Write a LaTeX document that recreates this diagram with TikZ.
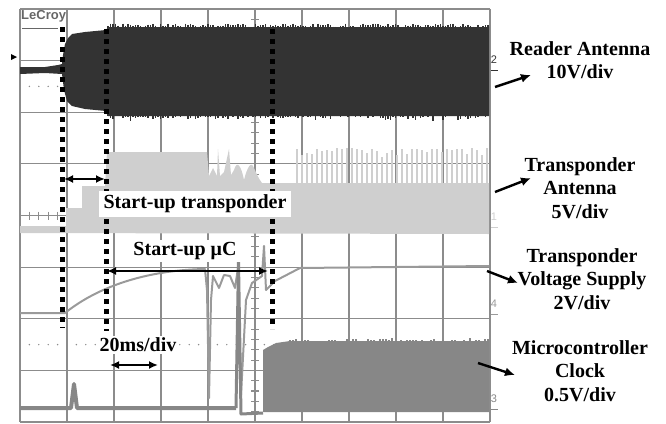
\documentclass[tikz,border=0pt]{standalone}
\usepackage{fontspec}
\setmainfont{Liberation Serif}
\setsansfont{Liberation Sans}
\usetikzlibrary{arrows.meta}

\definecolor{readergray}{HTML}{333333}
\definecolor{antgray}{HTML}{CFCFCF}
\definecolor{vddgray}{HTML}{9A9A9A}
\definecolor{clkgray}{HTML}{878787}
\definecolor{gridgray}{HTML}{8C8C8C}

\begin{document}
\begin{tikzpicture}[x=1pt,y=-1pt,
  gridline/.style={gridgray,line width=1.1pt},
  marker/.style={black,line width=5pt,dash pattern=on 5pt off 5pt},
  caption/.style={font=\fontsize{20}{23.5}\selectfont\bfseries,align=center},
  tag/.style={caption,fill=white,inner xsep=5pt,inner ysep=4pt},
  callout/.style={line width=2.4pt,-{Latex[length=10pt,width=9pt]}},
  span/.style={line width=2.2pt,{Latex[length=9pt,width=8pt]}-{Latex[length=9pt,width=8pt]}},
  chan/.style={font=\sffamily\fontsize{11}{11}\selectfont,inner sep=0pt}]

\useasboundingbox (0,0) rectangle (666,423);
\pgfmathsetseed{42}

% Graticule
\foreach \i in {0,...,10}
  \draw[gridline] (20+47*\i,9) -- (20+47*\i,422);
\foreach \j in {0,...,8}
  \draw[gridline] (20,9+51.625*\j) -- (490,9+51.625*\j);
\foreach \k in {1,...,39}
  \draw[gridline] (251,9+10.325*\k) -- (259,9+10.325*\k);
\foreach \k in {1,...,49}
  \draw[gridline] (20+9.4*\k,211.5) -- (20+9.4*\k,219.5);
\foreach \k in {1,...,49} {
  \fill[gridgray] (20+9.4*\k,86.4) circle (0.8pt);
  \fill[gridgray] (20+9.4*\k,344.6) circle (0.8pt);
}

% Transponder antenna (channel 1)
\fill[antgray] (20,233) -- (20,226) -- (66,226) -- (66,208) -- (82,208) -- (82,186)
  -- (105,186) -- (107,152) -- (207,152) -- (209,176) -- (213,168) -- (217,176)
  -- (218,149) -- (220,176) -- (224,172) -- (229,149) -- (231,175) -- (234,170)
  .. controls (237,160) and (241,165) .. (244,180)
  .. controls (247,168) and (251,160) .. (254,168)
  .. controls (256,172) and (258,178) .. (262,183) -- (489,183) -- (489,234) -- cycle;
\foreach \x in {297,302,...,487}
  \draw[antgray,line width=1.6pt] (\x,184) -- (\x,{148+12*rnd*rnd});

% Reader antenna (channel 2)
\fill[readergray] (20,67) -- (45,67) -- (58,65) -- (62,64) -- (63,55) -- (65,44)
  -- (68,38) -- (72,34) -- (85,32) -- (106,30) -- (108,27) -- (489,27)
  -- (489,116) -- (108,116) -- (106,111) -- (85,109) -- (72,106) -- (67,101)
  -- (64,90) -- (62,74) -- (45,73) -- (20,74) -- cycle;
\foreach \x in {108,110.5,...,488} {
  \pgfmathsetmacro\up{27-3.5*rnd}
  \pgfmathsetmacro\dn{116+5*rnd*rnd}
  \draw[readergray,line width=1.2pt] (\x,\up) -- (\x,\dn);
}

% Transponder voltage supply (channel 4)
\draw[vddgray,line width=2pt,line join=round] (20,313) -- (65,313)
  .. controls (100,285) and (150,270) .. (205,269) -- (207,290) -- (209,398)
  -- (211,300) -- (213,276) -- (219,288) -- (224,275) -- (230,276) -- (235,288)
  -- (238,268) -- (241,395) -- (246,300) -- (252,283) -- (262,276) -- (264,246)
  -- (266,290) -- (275,281) -- (300,268) -- (489,266);

% Microcontroller clock (channel 3)
\draw[clkgray,line width=4pt,line join=round] (20,408) -- (71,408) -- (74,384)
  -- (77,408) -- (236,408);
\draw[clkgray,line width=3pt,line join=round] (236,408) -- (238.5,262)
  -- (241,414) -- (263,413);
\fill[clkgray] (263,412) -- (263,350) -- (268,347) -- (276,343) -- (290,341)
  -- (489,341) -- (489,412) -- cycle;
\foreach \x in {290,293,...,488}
  \draw[clkgray,line width=1.2pt] (\x,342) -- (\x,{341-4*rnd*rnd});

% Scope screen decorations
\node[chan,text=black!60,font=\sffamily\bfseries\fontsize{13}{13}\selectfont,anchor=north west] (logo) at (21,10) {LeCroy};
\draw[black!60,line width=1pt] (22,28) -- (58,28);
\fill[black] (11,54) -- (17,57) -- (11,60) -- cycle;
\node[chan,text=readergray] (ch2) at (494,60) {2};
\node[chan,text=antgray] (ch1) at (494,217) {1};
\node[chan,text=vddgray] (ch4) at (494,304) {4};
\node[chan,text=clkgray] (ch3) at (494,399) {3};
\draw[readergray,line width=0.8pt] (491,70) -- (498,70);
\draw[antgray,line width=0.8pt] (491,227) -- (498,227);
\draw[vddgray,line width=0.8pt] (491,314) -- (498,314);
\draw[clkgray,line width=0.8pt] (491,409) -- (498,409);

% Timing markers
\draw[marker] (62,27) -- (62,328);
\draw[marker] (106,29) -- (106,331);
\draw[marker] (272,29) -- (272,329);

% Annotations
\node[tag] (tpstart) at (195,204) {Start-up transponder};
\node[tag,inner ysep=2pt] (ucstart) at (185,251) {Start-up μC};
\node[tag,inner ysep=2pt,inner xsep=3pt] (tbase) at (138,345) {20ms/div};

\coordinate (tpl) at (64,179);
\coordinate (tpr) at (105,179);
\coordinate (ucl) at (107,271);
\coordinate (ucr) at (268,271);
\coordinate (divl) at (110,365);
\coordinate (divr) at (158,365);
\draw[span] (tpl) -- (tpr);
\draw[span] (ucl) -- (ucr);
\draw[span] (divl) -- (divr);

% Channel captions
\node[caption] (reader) at (580,60) {Reader Antenna\\10V/div};
\node[caption] (tpant) at (580,188) {Transponder\\Antenna\\5V/div};
\node[caption] (tpvdd) at (582,279) {Transponder\\Voltage Supply\\2V/div};
\node[caption] (mcclk) at (580,371) {Microcontroller\\Clock\\0.5V/div};

\coordinate (readerfrom) at (495,87);
\coordinate (readerto) at (531,75);
\coordinate (tpantfrom) at (495,192);
\coordinate (tpantto) at (531,178);
\coordinate (tpvddfrom) at (487,271);
\coordinate (tpvddto) at (518,283);
\coordinate (mcclkfrom) at (478,363);
\coordinate (mcclkto) at (515,375);
\draw[callout] (readerfrom) -- (readerto);
\draw[callout] (tpantfrom) -- (tpantto);
\draw[callout] (tpvddfrom) -- (tpvddto);
\draw[callout] (mcclkfrom) -- (mcclkto);
\end{tikzpicture}
\end{document}
